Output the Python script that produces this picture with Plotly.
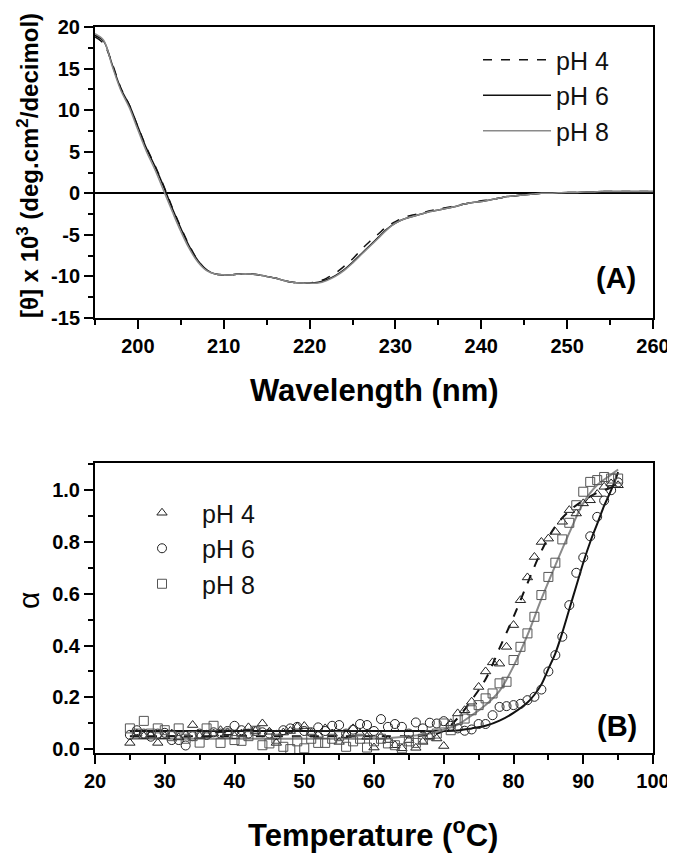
import plotly.graph_objects as go

# ---------------- Panel A: CD spectra ----------------
wavelength = list(range(195, 261))
cd_ph6 = [19.0, 18.3, 15.5, 12.6, 10.6, 8.0, 5.4, 3.2, 0.8, -1.8,
          -4.2, -6.4, -8.1, -9.2, -9.7, -9.8, -9.8, -9.7, -9.7, -9.8,
          -10.0, -10.2, -10.5, -10.7, -10.8, -10.8, -10.7, -10.4, -9.9, -9.2,
          -8.3, -7.3, -6.3, -5.3, -4.3, -3.6, -3.1, -2.8, -2.5, -2.2,
          -2.0, -1.8, -1.6, -1.3, -1.1, -1.0, -0.8, -0.6, -0.4, -0.3,
          -0.2, -0.1, 0.0, 0.0, 0.05, 0.1, 0.1, 0.15, 0.15, 0.2,
          0.2, 0.2, 0.2, 0.2, 0.2, 0.2]
cd_ph4 = [18.8, 18.0, 15.6, 12.7, 10.6, 8.0, 5.5, 3.3, 0.9, -1.7,
          -4.1, -6.3, -8.1, -9.2, -9.7, -9.8, -9.8, -9.7, -9.7, -9.8,
          -10.0, -10.2, -10.5, -10.7, -10.8, -10.8, -10.6, -10.2, -9.6, -8.8,
          -7.9, -6.8, -5.8, -4.9, -4.0, -3.4, -2.9, -2.6, -2.4, -2.1,
          -1.9, -1.7, -1.5, -1.3, -1.1, -0.9, -0.8, -0.6, -0.4, -0.3,
          -0.2, -0.1, 0.0, 0.0, 0.05, 0.1, 0.1, 0.15, 0.15, 0.2,
          0.2, 0.2, 0.2, 0.2, 0.2, 0.2]
cd_ph8 = [19.2, 18.4, 15.3, 12.4, 10.3, 7.6, 5.0, 2.8, 0.3, -2.2,
          -4.6, -6.7, -8.3, -9.3, -9.7, -9.8, -9.8, -9.7, -9.7, -9.8,
          -10.0, -10.2, -10.5, -10.7, -10.8, -10.8, -10.8, -10.5, -10.0, -9.3,
          -8.4, -7.4, -6.4, -5.4, -4.4, -3.6, -3.1, -2.8, -2.5, -2.2,
          -2.0, -1.8, -1.6, -1.3, -1.1, -1.0, -0.8, -0.6, -0.4, -0.3,
          -0.2, -0.1, 0.0, 0.0, 0.05, 0.1, 0.1, 0.15, 0.15, 0.2,
          0.2, 0.2, 0.2, 0.2, 0.2, 0.2]

# ---------------- Panel B: thermal unfolding ----------------
temperature = list(range(25, 96))
alpha_ph4 = [0.024, 0.06, 0.05, 0.055, 0.024, 0.05, 0.06, 0.045, 0.055, 0.093,
             0.05, 0.055, 0.06, 0.073, 0.065, 0.05, 0.06, 0.084, 0.07, 0.099,
             0.067, 0.024, 0.064, 0.07, 0.086, 0.089, 0.063, 0.055, 0.08, 0.06,
             0.028, 0.054, 0.08, 0.06, 0.048, 0.006, 0.048, 0.035, 0.015, 0.003,
             0.035, 0.005, 0.028, 0.05, 0.041, 0.012, 0.10, 0.138, 0.15, 0.183,
             0.24, 0.30, 0.335, 0.33, 0.395, 0.479, 0.575, 0.663, 0.742, 0.80,
             0.813, 0.839, 0.878, 0.923, 0.91, 0.949, 0.961, 0.985, 1.013, 1.026,
             1.019]
alpha_ph6 = [0.055, 0.073, 0.06, 0.048, 0.06, 0.063, 0.035, 0.035, 0.014, 0.05,
             0.06, 0.055, 0.065, 0.06, 0.07, 0.09, 0.073, 0.06, 0.07, 0.065,
             0.06, 0.055, 0.073, 0.08, 0.086, 0.07, 0.065, 0.084, 0.07, 0.09,
             0.093, 0.06, 0.075, 0.097, 0.093, 0.07, 0.116, 0.086, 0.097, 0.086,
             0.06, 0.103, 0.08, 0.102, 0.099, 0.108, 0.09, 0.08, 0.071, 0.076,
             0.097, 0.097, 0.131, 0.163, 0.166, 0.17, 0.175, 0.189, 0.202, 0.23,
             0.30, 0.363, 0.434, 0.556, 0.681, 0.74, 0.822, 0.897, 0.96, 1.0,
             1.03]
alpha_ph8 = [0.08, 0.06, 0.109, 0.06, 0.08, 0.073, 0.05, 0.08, 0.04, 0.05,
             0.025, 0.08, 0.09, 0.024, 0.06, 0.035, 0.032, 0.05, 0.071, 0.015,
             0.022, 0.04, 0.009, 0.0, 0.03, 0.003, 0.04, 0.024, 0.024, 0.04,
             0.05, 0.009, 0.03, 0.04, 0.006, 0.03, 0.04, 0.022, 0.015, 0.003,
             0.03, 0.024, 0.04, 0.054, 0.06, 0.099, 0.073, 0.112, 0.118, 0.15,
             0.17, 0.196, 0.215, 0.254, 0.26, 0.344, 0.395, 0.447, 0.511, 0.595,
             0.665, 0.72, 0.81, 0.874, 0.942, 0.994, 1.032, 1.039, 1.051, 1.045,
             1.045]

# fitted curves
fit_T = [25, 30, 35, 40, 45, 50, 55, 60, 65, 68, 70, 72, 74, 76, 78, 80,
         82, 84, 86, 88, 90, 92, 94, 95]
fit_ph4 = [0.05, 0.05, 0.05, 0.05, 0.05, 0.05, 0.05, 0.05, 0.05, 0.055, 0.07, 0.12,
           0.19, 0.27, 0.39, 0.51, 0.64, 0.765, 0.86, 0.92, 0.96, 0.99, 1.01, 1.02]
fit_ph8 = [0.04, 0.04, 0.04, 0.04, 0.04, 0.04, 0.04, 0.04, 0.05, 0.06, 0.075, 0.095,
           0.13, 0.17, 0.225, 0.32, 0.44, 0.58, 0.71, 0.835, 0.95, 1.02, 1.06, 1.08]
fit6_T = [25, 30, 40, 50, 60, 70, 72, 74, 76, 78, 80, 82, 83, 84, 85, 86,
          87, 88, 89, 90, 91, 92, 93, 94, 95]
fit_ph6 = [0.07, 0.07, 0.07, 0.07, 0.07, 0.07, 0.072, 0.08, 0.09, 0.11, 0.14, 0.18,
           0.21, 0.25, 0.31, 0.37, 0.45, 0.54, 0.63, 0.72, 0.80, 0.87, 0.94, 1.0, 1.07]

labels = ["pH 4", "pH 6", "pH 8"]

# tick labels
ticks_a_x = [200, 210, 220, 230, 240, 250, 260]
ticks_a_y = [-15, -10, -5, 0, 5, 10, 15, 20]
ticks_b_x = [20, 30, 40, 50, 60, 70, 80, 90, 100]
ticks_b_y = [0.0, 0.2, 0.4, 0.6, 0.8, 1.0]

BLACK = "#111111"
GRAY = "#8a8a8a"
FONT = "Liberation Sans, Arial, sans-serif"

# page has an 8px body margin: figure is sized to fit the window
OFF = 8
W, H = 675 - OFF, 857 - OFF


def px(x):
    return (x - OFF) / W


def py(y):
    return 1 - (y - OFF) / H


fig = go.Figure()

# Panel A traces
for name, ys, color, dash in [(labels[0], cd_ph4, BLACK, "dash"),
                              (labels[1], cd_ph6, BLACK, "solid"),
                              (labels[2], cd_ph8, GRAY, "solid")]:
    fig.add_trace(go.Scatter(x=wavelength, y=ys, mode="lines", name=name,
                             line=dict(color=color, width=1.5, dash=dash, shape="spline"),
                             xaxis="x", yaxis="y", legend="legend",
                             legendgroup="a" + name))

# Panel B fitted curves
fig.add_trace(go.Scatter(x=fit_T, y=fit_ph4, mode="lines", showlegend=False,
                         line=dict(color=BLACK, width=2, dash="dash", shape="spline"),
                         xaxis="x2", yaxis="y2"))
fig.add_trace(go.Scatter(x=fit6_T, y=fit_ph6, mode="lines", showlegend=False,
                         line=dict(color=BLACK, width=2, shape="spline"),
                         xaxis="x2", yaxis="y2"))
fig.add_trace(go.Scatter(x=fit_T, y=fit_ph8, mode="lines", showlegend=False,
                         line=dict(color=GRAY, width=2, shape="spline"),
                         xaxis="x2", yaxis="y2"))

# Panel B data points
for name, ys, sym, color in [(labels[0], alpha_ph4, "triangle-up-open", "#222222"),
                             (labels[1], alpha_ph6, "circle-open", "#222222"),
                             (labels[2], alpha_ph8, "square-open", "#555555")]:
    fig.add_trace(go.Scatter(x=temperature, y=ys, mode="markers", name=name,
                             marker=dict(symbol=sym, size=9, color=color,
                                         line=dict(width=1, color=color)),
                             xaxis="x2", yaxis="y2", legend="legend2",
                             legendgroup="b" + name))


def bold(vals, fmt):
    return [f"<b>{fmt.format(v)}</b>" for v in vals]


tickfont = dict(family=FONT, size=20, color="black")
common = dict(showline=True, linecolor="black", linewidth=2, mirror=True,
              ticks="outside", ticklen=9, tickwidth=2, tickcolor="black",
              tickfont=tickfont, showgrid=False, automargin=False)
minor_kw = dict(ticklen=5, tickwidth=2, ticks="outside", tickcolor="black")

dom_x = [px(95), px(653)]
fig.update_layout(
    width=W, height=H,
    margin=dict(l=0, r=0, t=0, b=0, autoexpand=False),
    paper_bgcolor="white", plot_bgcolor="white",
    xaxis=dict(domain=dom_x, range=[195, 260],
               tickvals=ticks_a_x, ticktext=bold(ticks_a_x, "{:d}"),
               minor=dict(dtick=5, tick0=195, **minor_kw),
               zeroline=False, anchor="y", **common),
    yaxis=dict(domain=[py(318), py(27)], range=[-15, 20],
               tickvals=ticks_a_y, ticktext=bold(ticks_a_y, "{:d}"),
               minor=dict(dtick=2.5, tick0=0, **minor_kw),
               zeroline=True, zerolinecolor="black", zerolinewidth=1.5,
               anchor="x", **common),
    xaxis2=dict(domain=dom_x, range=[20, 100],
                tickvals=ticks_b_x, ticktext=bold(ticks_b_x, "{:d}"),
                minor=dict(dtick=5, tick0=0, **minor_kw),
                zeroline=False, anchor="y2", **common),
    yaxis2=dict(domain=[py(753), py(463)], range=[-0.015, 1.105],
                tickvals=ticks_b_y, ticktext=bold(ticks_b_y, "{:.1f}"),
                minor=dict(dtick=0.1, tick0=0, **minor_kw),
                zeroline=False, anchor="x2", **common),
    legend=dict(x=px(478), y=py(37), xanchor="left", yanchor="top",
                bgcolor="rgba(0,0,0,0)", itemwidth=68, tracegroupgap=0,
                font=dict(family=FONT, size=25, color="#111111")),
    legend2=dict(x=px(122), y=py(490), xanchor="left", yanchor="top",
                 bgcolor="rgba(0,0,0,0)", itemwidth=70, tracegroupgap=0,
                 font=dict(family=FONT, size=25, color="#111111")),
    showlegend=True,
)

annots = [
    dict(text="Wavelength (nm)", x=374, y=390, size=31),
    dict(text="Temperature (<sup>o</sup>C)", x=373, y=833, size=31),
    dict(text="(A)", x=616, y=278, size=29),
    dict(text="(B)", x=617, y=726, size=29),
]
for a in annots:
    fig.add_annotation(text=f"<b>{a['text']}</b>", x=px(a["x"]), y=py(a["y"]),
                       xref="paper", yref="paper",
                       xanchor="center", yanchor="middle", showarrow=False,
                       font=dict(family=FONT, size=a["size"], color="black"))

fig.add_annotation(text="<b>[θ] x 10<sup>3</sup> (deg.cm<sup>2</sup>/decimol)</b>",
                   x=px(28), y=py(166), xref="paper", yref="paper",
                   xanchor="center", yanchor="middle", showarrow=False, textangle=-90,
                   font=dict(family=FONT, size=24, color="black"))
fig.add_annotation(text="α", x=px(28), y=py(601), xref="paper", yref="paper",
                   xanchor="center", yanchor="middle", showarrow=False, textangle=-90,
                   font=dict(family=FONT, size=30, color="black"))

fig.write_html("out.html")
